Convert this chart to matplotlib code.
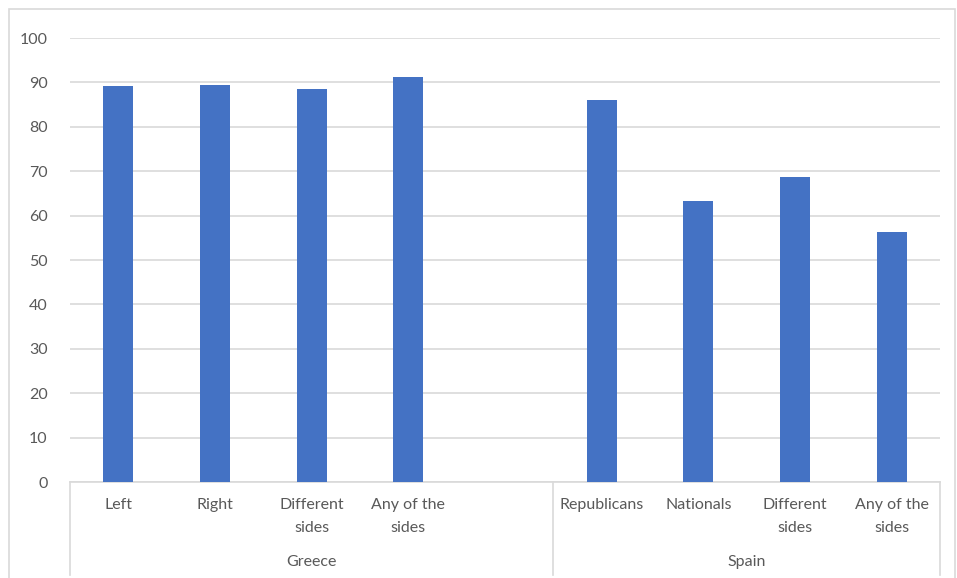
import matplotlib.pyplot as plt
from matplotlib.patches import Rectangle

plt.rcParams['font.family'] = ['Lato', 'DejaVu Sans']

# data
greece_labels = ['Left', 'Right', 'Different\nsides', 'Any of the\nsides', '']
greece_values = [89.2, 89.5, 88.6, 91.3, None]
spain_labels = ['Republicans', 'Nationals', 'Different\nsides', 'Any of the\nsides']
spain_values = [86.1, 63.3, 68.6, 56.2]
groups = ['Greece', 'Spain']
yticks = [0, 10, 20, 30, 40, 50, 60, 70, 80, 90, 100]

labels = greece_labels + spain_labels
values = greece_values + spain_values
n = len(labels)

txt = '#595959'
grid = '#d9d9d9'
fs = 11.5

fig = plt.figure(figsize=(9.57, 5.78), dpi=100)
fig.patches.append(Rectangle((9/957, -0.1), (955-9)/957, 1.1 - 9/578,
                             transform=fig.transFigure, fill=False,
                             edgecolor=grid, linewidth=1.2))
ax = fig.add_axes([70/957, 1-482/578, (940-70)/957, (482-38)/578])

xs = [i for i, v in enumerate(values) if v is not None]
vs = [v for v in values if v is not None]
ax.bar(xs, vs, width=0.31, color='#4472C4', zorder=3)

ax.set_xlim(-0.5, n - 0.5)
ax.set_ylim(0, 100)
ax.set_yticks(yticks)
ax.yaxis.grid(True, color=grid, linewidth=1.2, zorder=0)
ax.tick_params(axis='y', length=0, labelsize=fs, colors=txt, pad=16)
ax.set_xticks([])
for s in ['top', 'right', 'left']:
    ax.spines[s].set_visible(False)
ax.spines['bottom'].set_color(grid)
ax.spines['bottom'].set_linewidth(1.2)

trans = ax.get_xaxis_transform()
for i, lab in enumerate(labels):
    ax.text(i, -0.037, lab, transform=trans, ha='center', va='top',
            fontsize=fs, color=txt, linespacing=1.75)

ng = len(greece_labels)
centers = [(ng - 1) / 2, ng + (len(spain_labels) - 1) / 2]
for c, g in zip(centers, groups):
    ax.text(c, -0.165, g, transform=trans, ha='center', va='top',
            fontsize=fs, color=txt)

for xb in [-0.5, ng - 0.5, n - 0.5]:
    ax.plot([xb, xb], [0, -0.21], transform=trans, color=grid,
            linewidth=1.2, clip_on=False)

fig.savefig('out.png', dpi=100)
